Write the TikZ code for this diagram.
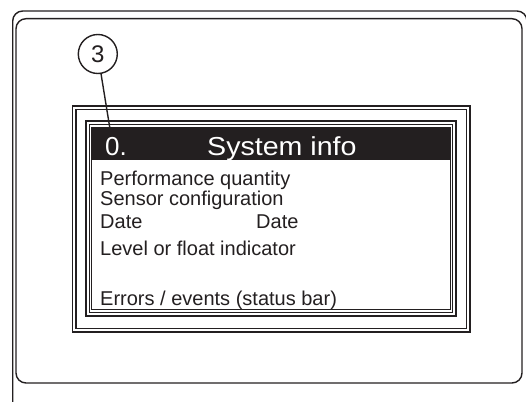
\documentclass[tikz,border=0pt]{standalone}
\usepackage{fontspec}
\setmainfont{Liberation Sans}
\definecolor{ink}{HTML}{231F20}
\tikzset{
  frameline/.style={draw=ink, line width=1.4pt},
  bodytext/.style={anchor=base west, inner sep=0pt, text=ink, font=\fontsize{20}{24}\selectfont},
  headtext/.style={anchor=base west, inner sep=0pt, text=white, font=\fontsize{26}{30}\selectfont},
  callout/.style={circle, draw=ink, line width=1.4pt, minimum size=39pt, inner sep=0pt, text=ink, font=\fontsize{24}{28}\selectfont},
}
\begin{document}
\begin{tikzpicture}[x=1pt,y=-1pt]
\useasboundingbox (0,0) rectangle (526,401);
\clip (0,0) rectangle (526,401);
% device housing
\draw[frameline, rounded corners=10] (12.7,410) -- (12.7,11) -- (527,11) -- (527,410);
\draw[frameline, rounded corners=10] (16,18.7) rectangle (522,383);
% display frames
\draw[frameline] (72.3,106) rectangle (469.8,332);
\draw[frameline] (75.8,109.5) rectangle (466.2,328.5);
\draw[frameline] (86,121) rectangle (456,316);
\draw[frameline] (89.5,124.6) rectangle (452.6,312.4);
% screen
\fill[ink] (91.6,127.4) rectangle (450.2,160);
\draw[ink, line width=1.1pt] (91.6,127.4) rectangle (450.2,309.4);
\node[headtext] (hnum) at (105,155) {0.};
\node[headtext] (htitle) at (207,155) {\scalebox{1.1}[1]{System info}};
\node[bodytext] (l1) at (100,185) {Performance quantity};
\node[bodytext] (l2) at (100,205) {Sensor configuration};
\node[bodytext] (l3a) at (100,228.5) {Date};
\node[bodytext] (l3b) at (256,228.5) {Date};
\node[bodytext] (l4) at (100,255.5) {Level or float indicator};
\node[bodytext] (l5) at (100,305.5) {Errors / events (status bar)};
% callout
\node[callout] (c3) at (97.8,54) {3};
\coordinate (tip) at (110,129);
\draw[draw=ink, line width=1.4pt] (c3) -- (tip);
\end{tikzpicture}
\end{document}
